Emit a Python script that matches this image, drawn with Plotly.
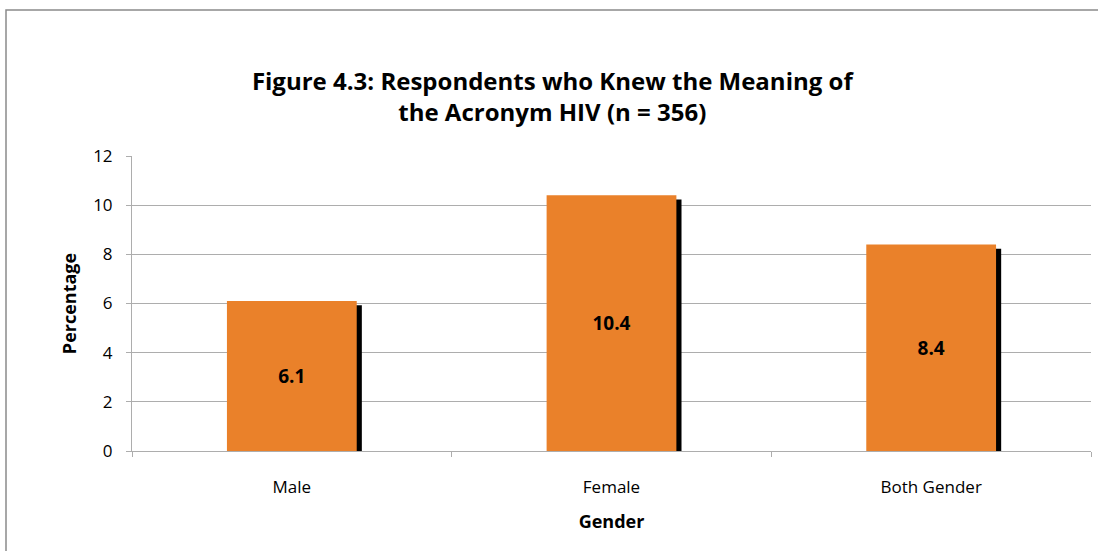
import plotly.graph_objects as go

categories = ["Male", "Female", "Both Gender"]
values = [6.1, 10.4, 8.4]
y_ticks = [0, 2, 4, 6, 8, 10, 12]

title_text = "Figure 4.3: Respondents who Knew the Meaning of<br>the Acronym HIV (n = 356)"
FONT = "Open Sans"
GRID = "#ADADAD"

bar_w = 0.406
shadow_shift = 0.016   # category units
shadow_drop = 0.17     # value units

fig = go.Figure()
# drop shadow (black, slightly right and below)
fig.add_trace(go.Bar(
    x=categories, y=[v - shadow_drop for v in values],
    width=bar_w, offset=-bar_w / 2 + shadow_shift,
    marker=dict(color="black", line=dict(width=0)),
    hoverinfo="skip", showlegend=False,
))
# main bars
fig.add_trace(go.Bar(
    x=categories, y=values,
    width=bar_w, offset=-bar_w / 2,
    marker=dict(color="#EA812A", line=dict(width=0)),
    texttemplate="%{y}", textposition="inside", insidetextanchor="middle",
    textfont=dict(family=FONT, size=19, color="black", weight="bold"),
    showlegend=False,
))

# chart outer border
fig.add_shape(type="rect", xref="paper", yref="paper",
              x0=(6 - 132) / 959, x1=1.05, y0=-0.6, y1=(451 - 10) / 295,
              line=dict(color="#8A8A8A", width=1.5), layer="below")

fig.update_layout(
    width=1098, height=551,
    margin=dict(l=132, r=7, t=156, b=100),
    paper_bgcolor="white", plot_bgcolor="white",
    barmode="overlay",
    title=dict(text="<b>" + title_text + "</b>", x=0.503, xanchor="center",
               y=1 - 90 / 551, yanchor="middle",
               font=dict(family=FONT, size=24, color="black")),
    xaxis=dict(
        type="category", tickson="boundaries",
        ticks="outside", ticklen=5, tickcolor=GRID,
        showline=True, linecolor=GRID, linewidth=1,
        showgrid=False, ticklabelstandoff=21,
        tickfont=dict(family=FONT, size=17, color="black"),
        title=dict(text="<b>Gender</b>", font=dict(family=FONT, size=18, color="black"), standoff=17),
    ),
    yaxis=dict(
        range=[0, 12], tickvals=y_ticks,
        ticks="outside", ticklen=5, tickcolor=GRID,
        showline=True, linecolor=GRID, linewidth=1,
        showgrid=True, gridcolor=GRID, gridwidth=1,
        zeroline=False, ticklabelstandoff=10,
        tickfont=dict(family=FONT, size=17, color="black"),
        title=dict(text="<b>Percentage</b>", font=dict(family=FONT, size=18, color="black"), standoff=11),
    ),
)

fig.write_html("out.html", config={"displayModeBar": False},
               post_script="document.body.style.margin='0';")
